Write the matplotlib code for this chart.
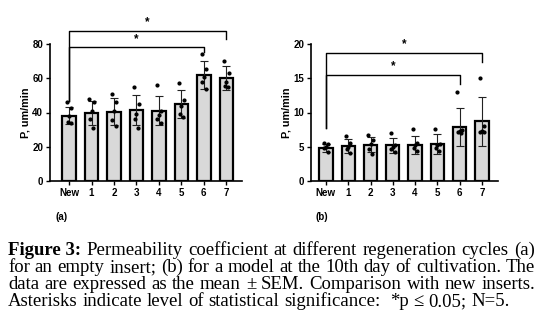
import numpy as np
import matplotlib
matplotlib.use("Agg")
import matplotlib.pyplot as plt

groups = ["New", "1", "2", "3", "4", "5", "6", "7"]

# (a) empty insert
mean_a = [38, 39.5, 40.5, 41.5, 41, 45, 62, 60]
err_a = [5, 7, 8, 9, 8.5, 8, 8, 7]
pts_a = [
    [46, 42.5, 38, 34.5, 34],
    [48, 46, 41, 36, 31],
    [51, 46, 41, 35.5, 32],
    [55, 45, 39, 36, 31],
    [56, 41, 38.5, 36, 34],
    [57.5, 47.5, 44, 39, 37.5],
    [74, 65.5, 61, 58, 54],
    [70, 63, 58, 55.5, 55],
]

# (b) model, day 10
mean_b = [4.8, 5.1, 5.3, 5.2, 5.3, 5.4, 7.9, 8.7]
err_b = [0.6, 1.0, 1.1, 1.1, 1.3, 1.4, 2.8, 3.6]
pts_b = [
    [5.5, 5.4, 5.0, 4.8, 4.2],
    [6.5, 5.6, 5.0, 4.6, 4.1],
    [6.7, 6.0, 5.4, 4.7, 4.0],
    [7.0, 5.3, 5.0, 4.6, 4.2],
    [7.6, 5.5, 5.3, 4.8, 4.4],
    [7.6, 5.4, 5.2, 4.8, 4.4],
    [13.0, 7.5, 7.3, 7.1, 7.0],
    [15.0, 8.0, 7.3, 7.2, 7.1],
]

# significance brackets: (from, to, bracket height, left leg end, right leg end)
sig_a = [(0, 6, 78, 47, 75.5), (0, 7, 87.5, 47, 83)]
sig_b = [(0, 6, 15.5, 7.7, 14.1), (0, 7, 18.7, 7.7, 17.4)]

W, H = 547, 323
fig = plt.figure(figsize=(W / 100, H / 100), dpi=100)

sans = ["Liberation Sans", "DejaVu Sans"]
jitter = [-0.1, 0.1, 0.0, -0.07, 0.08]


def panel(rect, means, errs, pts, sigs, ymax, yticks, xlim, letter, letter_x):
    ax = fig.add_axes(rect)
    x = np.arange(len(groups))
    ax.bar(x, means, width=0.6, color="#d9d9d9", edgecolor="black", linewidth=1.6, zorder=2)
    ax.errorbar(x, means, yerr=errs, fmt="none", ecolor="#222222", elinewidth=0.8,
                capsize=2.8, capthick=0.8, zorder=3)
    for i, p in enumerate(pts):
        ax.plot(x[i] + np.array(jitter), p, "o", color="black", markersize=2.0,
                linestyle="none", zorder=4)
    for a, b, h, l1, l2 in sigs:
        ax.plot([a, a, b, b], [l1, h, h, l2], color="black", linewidth=1.0, clip_on=False)
        ax.text((a + b) / 2, h + ymax * 0.02, "*", ha="center", va="bottom", fontsize=8.5,
                fontweight="bold", family=sans)
    ax.set_xlim(*xlim)
    ax.set_ylim(0, ymax)
    ax.set_yticks(yticks)
    ax.set_xticks(x)
    ax.set_xticklabels(groups)
    for s in ["top", "right"]:
        ax.spines[s].set_visible(False)
    for s in ["left", "bottom"]:
        ax.spines[s].set_linewidth(1.2)
    ax.tick_params(axis="both", length=3, width=1.0, labelsize=7, pad=2)
    for lab in ax.get_xticklabels() + ax.get_yticklabels():
        lab.set_fontweight("bold")
        lab.set_family(sans)
    ax.set_ylabel("P, um/min", fontsize=7.8, fontweight="bold", family=sans, labelpad=1.5)
    fig.text(letter_x / W, 1 - 217 / H, letter, ha="left", va="center", fontsize=7,
             fontweight="bold", family=sans)
    return ax


panel([50 / W, 1 - 181 / H, 192 / W, 137 / H], mean_a, err_a, pts_a, sig_a, 80,
      [0, 20, 40, 60, 80], (-0.85, 7.7), "(a)", 55)
panel([311 / W, 1 - 181 / H, 187 / W, 137 / H], mean_b, err_b, pts_b, sig_b, 20,
      [0, 5, 10, 15, 20], (-0.67, 7.72), "(b)", 315)

# caption, justified word by word
serif = ["Liberation Serif", "DejaVu Serif"]
cap_size = 13.5
lines = [
    [("Figure 3:", "bold")] + [(w, "normal") for w in
        "Permeability coefficient at different regeneration cycles (a)".split()],
    [(w, "normal") for w in "for an empty insert; (b) for a model at the 10th day of cultivation. The".split()],
    [(w, "normal") for w in "data are expressed as the mean ± SEM. Comparison with new inserts.".split()],
    [(w, "normal") for w in "Asterisks indicate level of statistical significance:  *p ≤ 0.05; N=5.".split(" ")],
]
baselines = [255, 272, 289, 306]
x0, x1 = 8, 535
renderer = fig.canvas.get_renderer()
for li, (words, yb) in enumerate(zip(lines, baselines)):
    texts = []
    widths = []
    for w, wt in words:
        t = fig.text(0, 1 - yb / H, w, fontsize=cap_size, fontweight=wt, family=serif,
                     ha="left", va="baseline")
        texts.append(t)
        widths.append(t.get_window_extent(renderer).width)
    t2 = fig.text(0, 0, "a a", fontsize=cap_size, family=serif)
    t1 = fig.text(0, 0, "aa", fontsize=cap_size, family=serif)
    space = t2.get_window_extent(renderer).width - t1.get_window_extent(renderer).width
    t2.remove()
    t1.remove()
    if li < len(lines) - 1:
        gap = (x1 - x0 - sum(widths)) / (len(widths) - 1)
    else:
        gap = space
    xpos = x0
    for t, wd in zip(texts, widths):
        t.set_x(xpos / W)
        xpos += wd + gap

fig.savefig("out.png", dpi=100)
